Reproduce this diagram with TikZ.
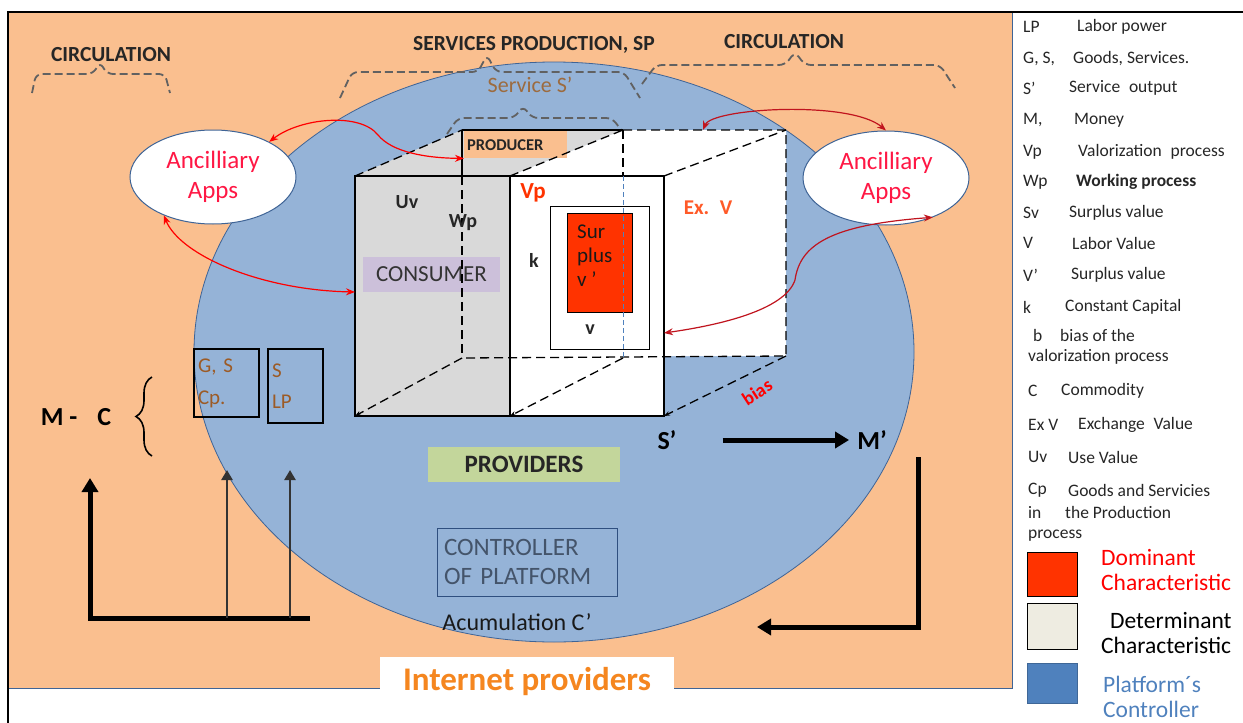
\documentclass[tikz,border=0pt]{standalone}
\usepackage{fontspec}
\setmainfont{Carlito}
\usetikzlibrary{arrows.meta,positioning,shapes.geometric,decorations.pathreplacing}
\definecolor{orangebg}{HTML}{FABF8F}
\definecolor{bluecirc}{HTML}{95B3D7}
\definecolor{bordblue}{HTML}{3F6496}
\definecolor{cubegray}{HTML}{D9D9D9}
\definecolor{consviolet}{HTML}{CCC0DA}
\definecolor{provgreen}{HTML}{C3D69B}
\definecolor{redbox}{HTML}{FF3300}
\definecolor{appred}{HTML}{FF1744}
\definecolor{darkred}{HTML}{C0141E}
\definecolor{brownlbl}{HTML}{9C5B26}
\definecolor{srvbrown}{HTML}{9C6B3F}
\definecolor{ctrltext}{HTML}{44546A}
\definecolor{ctrlbord}{HTML}{2F4F7F}
\definecolor{exvred}{HTML}{FF5A28}
\definecolor{inetorange}{HTML}{F5861F}
\definecolor{detgray}{HTML}{EEECE1}
\definecolor{platblue}{HTML}{4F81BD}
\begin{document}
\begin{tikzpicture}[x=1pt,y=-1pt,
lbl/.style={font=\bfseries\fontsize{21.5}{23}\selectfont,text=black!85},
brc/.style={draw=black!62,line width=1.8pt,dash pattern=on 8pt off 4pt,rounded corners=6pt},
cub/.style={line width=1.3pt,dash pattern=on 9pt off 5pt},
app/.style={ellipse,draw=bordblue,line width=1pt,fill=white,minimum width=166pt,minimum height=94pt,inner sep=0pt,align=center,text=appred,font=\fontsize{25}{30}\selectfont},
rarr/.style={{Stealth[length=9pt,width=7pt]}-{Stealth[length=9pt,width=7pt]},line width=1.2pt},
leg/.style={anchor=west,inner sep=0pt,font=\fontsize{17.5}{19}\selectfont,text=black!85},
legbig/.style={anchor=west,inner sep=0pt,font=\fontsize{23.5}{25}\selectfont},
cbf/.style={font=\bfseries\fontsize{20}{22}\selectfont,text=black!85,inner sep=1pt},
big/.style={font=\bfseries\fontsize{26}{28}\selectfont,inner sep=2pt},
thk/.style={line width=5pt,-{Triangle[length=14pt,width=16pt]}},
thn/.style={line width=2.8pt,draw=black!80,-{Triangle[length=10pt,width=11pt]}},
sq/.style={minimum width=50pt,minimum height=44pt,inner sep=0pt,anchor=north west}]
\useasboundingbox (0,0) rectangle (1243,723);
% background and platform
\fill[orangebg] (8,12) rectangle (1012,688);
\draw[bordblue] (8,688) -- (1012,688) -- (1012,12);
\draw[black,line width=1.3pt] (8,723) -- (8,12) -- (1243,12);
\fill[bluecirc,draw=bordblue,line width=0.8pt] (554,352) ellipse [x radius=360pt,y radius=290pt];
% top labels and dashed braces
\node[lbl] (circl) at (111,55) {CIRCULATION};
\node[lbl] (sp) at (534,45) {SERVICES PRODUCTION, SP};
\node[lbl] (circr) at (784,42) {CIRCULATION};
\draw[brc] (32,93) -- (36,74) -- (93,74) -- (100,62) -- (107,74) -- (165,74) -- (170,93);
\draw[brc] (340,98) -- (352,72) -- (478,72) -- (487,55) -- (496,72) -- (624,72) -- (640,98);
\draw[brc] (642,84) -- (656,65) -- (785,65) -- (795,52) -- (805,65) -- (940,65) -- (955,88);
\node[font=\fontsize{22}{24}\selectfont,text=srvbrown] (srv) at (530,85) {Service S’};
\draw[brc] (447,134) -- (458,118) -- (514,118) -- (523,106) -- (532,118) -- (612,118) -- (622,131);
% cube
\coordinate (f1) at (355,176); \coordinate (f2) at (510,176); \coordinate (f3) at (664,176);
\coordinate (f4) at (355,416); \coordinate (f5) at (510,416); \coordinate (f6) at (664,416);
\coordinate (b1) at (462,130); \coordinate (b2) at (623,130); \coordinate (b3) at (786,130);
\coordinate (b4) at (462,358); \coordinate (b5) at (623,358); \coordinate (b6) at (786,356);
\fill[cubegray] (f1) -- (b1) -- (b2) -- (f2) -- (f5) -- (f4) -- cycle;
\fill[white] (f2) -- (b2) -- (b3) -- (b6) -- (f3|-b6) -- (f6) -- (f5) -- cycle;
\node[fill=orangebg,minimum width=103pt,minimum height=27pt,text width=97pt,inner sep=3pt,anchor=north west,font=\bfseries\fontsize{16.5}{18}\selectfont,text=black!85] (prod) at (464,131) {PRODUCER};
\node[fill=consviolet,minimum width=137pt,minimum height=35pt,inner sep=1pt,font=\fontsize{23}{25}\selectfont,text=black!80] (cons) at (431.5,274.5) {CONSUMER};
\draw[line width=1.3pt] (f1) rectangle (f5); \draw[line width=1.3pt] (f2) rectangle (f6);
\draw[line width=1.3pt] (b1) -- (b2); \draw[line width=1.3pt] (b1) -- (b1|-f1);
\draw[cub] (b1|-f1) -- (b4); \draw[cub] (b2) -- (b3) -- (b6) -- (b4); \draw[cub] (b2) -- (b2|-f1);
\draw[cub] (f1) -- (b1); \draw[cub] (f2) -- (b2); \draw[cub] (f3) -- (b3);
\draw[cub,-{Stealth[length=6pt]}] (b4) -- (f4); \draw[cub,-{Stealth[length=6pt]}] (b5) -- (f5); \draw[cub,-{Stealth[length=6pt]}] (b6) -- (f6);
\node[draw=black,line width=1.3pt,fill=white,minimum width=99pt,minimum height=143pt,anchor=north west] (vbox) at (550,206) {};
\node[draw=black,line width=1.2pt,fill=redbox,minimum width=65pt,minimum height=99pt,anchor=north west] (sv) at (567,213) {};
\node[anchor=north west,align=left,font=\fontsize{21}{24}\selectfont,text=black!90,inner sep=0pt] (svt) at (577,225) {Sur\\plus\\v ’};
\draw[draw=platblue,line width=0.9pt,dash pattern=on 5pt off 3pt] (b2|-f1) -- (b5);
\node[cbf] (uv) at (407,202) {Uv};
\node[cbf] (wp) at (463,223) {Wp};
\node[font=\bfseries\fontsize{23}{25}\selectfont,text=redbox,inner sep=1pt] (vp) at (533,193) {Vp};
\node[cbf] (kk) at (534,260) {k};
\node[cbf] (vv) at (590,330) {v};
\node[font=\bfseries\fontsize{21}{23}\selectfont,text=exvred] (exv) at (708,208) {Ex.\enspace V};
\node[font=\bfseries\fontsize{19}{21}\selectfont,text=red,rotate=33,inner sep=1pt] (bias) at (757,392) {bias};
\coordinate (cin) at (355,292); \coordinate (ctop) at (703,130); \coordinate (vin) at (664,333);
% ancilliary apps
\node[app] (appl) at (213,177) {Ancilliary\\Apps};
\node[app] (appr) at (886,178) {Ancilliary\\Apps};
\draw[rarr,red] (appl.32) .. controls (300,118) and (360,112) .. (378,135) .. controls (392,152) and (425,158) .. (prod.south west);
\draw[rarr,red] (appl.218) .. controls (180,255) and (260,290) .. (cin);
\draw[rarr,darkred] (ctop) .. controls (712,108) and (850,100) .. (appr.north);
\draw[rarr,darkred] (vin) .. controls (720,325) and (785,310) .. (795,280) .. controls (800,245) and (830,225) .. (appr.-40);
% money and commodity
\node[big] (mc) at (76,417) {M -\hspace{20pt}C};
\draw[decorate,decoration={brace,amplitude=16pt},line width=1.6pt] (152,456) -- (152,377);
\node[draw=black,line width=1.2pt,minimum width=65pt,minimum height=68pt,text width=57pt,inner sep=4pt,align=left,font=\fontsize{21}{32}\selectfont,text=brownlbl] (gsc) at (226.5,383) {G, S\\Cp.};
\node[draw=black,line width=1.2pt,minimum width=55pt,minimum height=74pt,text width=47pt,inner sep=4pt,align=left,font=\fontsize{21}{31}\selectfont,text=brownlbl] (slp) at (295.5,386) {S\\LP};
\coordinate (lr) at (310,618); \coordinate (lc) at (90,618); \coordinate (lt) at (90,478);
\coordinate (g1) at (227,618); \coordinate (g1t) at (227,470); \coordinate (g2) at (290,618); \coordinate (g2t) at (290,470);
\draw[thk] (lr) -- (lc) -- (lt);
\draw[thn] (g1) -- (g1t); \draw[thn] (g2) -- (g2t);
% output and accumulation
\node[big] (sout) at (667,440) {S’};
\node[big] (mout) at (872,440) {M’};
\draw[thk,shorten <=44pt,shorten >=6pt] (sout.east) -- (mout.west);
\coordinate (rt) at (918,457); \coordinate (rc) at (918,627); \coordinate (rl) at (757,627);
\draw[thk] (rt) -- (rc) -- (rl);
\node[fill=provgreen,minimum width=192pt,minimum height=35pt,inner sep=1pt,font=\bfseries\fontsize{25}{27}\selectfont,text=black!85] (prov) at (524,464.5) {PROVIDERS};
\node[draw=ctrlbord,line width=1pt,minimum width=180pt,minimum height=68pt,text width=166pt,inner sep=7pt,align=left,font=\fontsize{25}{29}\selectfont,text=ctrltext] (ctrl) at (527,562) {CONTROLLER\\OF PLATFORM};
\node[font=\fontsize{24}{26}\selectfont,text=black!90,inner sep=1pt] (acc) at (517,622) {Acumulation C'};
\node[fill=white,minimum width=294pt,minimum height=50pt,font=\bfseries\fontsize{33}{35}\selectfont,text=inetorange] (inet) at (527,682) {Internet providers};
% legend
\node[leg] (l1a) at (1023,27) {LP}; \node[leg] (l1b) at (1077,27) {Labor power};
\node[leg] (l2a) at (1023,59) {G, S,}; \node[leg] (l2b) at (1073,59) {Goods, Services.};
\node[leg] (l3a) at (1023,88) {S’}; \node[leg] (l3b) at (1069,88) {Service\enspace output};
\node[leg] (l4a) at (1023,120) {M,}; \node[leg] (l4b) at (1074,120) {Money};
\node[leg] (l5a) at (1023,152) {Vp}; \node[leg] (l5b) at (1078,152) {Valorization\enspace process};
\node[leg] (l6a) at (1023,182) {Wp}; \node[leg,font=\bfseries\fontsize{17.5}{19}\selectfont] (l6b) at (1076,182) {Working process};
\node[leg] (l7a) at (1023,213) {Sv}; \node[leg] (l7b) at (1069,213) {Surplus value};
\node[leg] (l8a) at (1023,243) {V}; \node[leg] (l8b) at (1072,243) {Labor Value};
\node[leg] (l9a) at (1023,275) {V’}; \node[leg] (l9b) at (1071,275) {Surplus value};
\node[leg] (l10a) at (1023,307) {k}; \node[leg] (l10b) at (1065,307) {Constant Capital};
\node[leg] (l11a) at (1033,335) {b}; \node[leg] (l11b) at (1060,335) {bias of the};
\node[leg] (l11c) at (1028,357) {valorization process};
\node[leg] (l12a) at (1028,391) {C}; \node[leg] (l12b) at (1061,391) {Commodity};
\node[leg] (l13a) at (1028,425) {Ex V}; \node[leg] (l13b) at (1078,425) {Exchange\enspace Value};
\node[leg] (l14a) at (1028,457) {Uv}; \node[leg] (l14b) at (1068,457) {Use Value};
\node[leg] (l15a) at (1028,490) {Cp}; \node[leg] (l15b) at (1068,490) {Goods and Servicies};
\node[leg] (l15c) at (1028,512) {in}; \node[leg] (l15d) at (1065,512) {the Production};
\node[leg] (l15e) at (1028,536) {process};
\node[sq,fill=redbox,draw=black,line width=1.3pt] (sqa) at (1027,552) {};
\node[sq,fill=detgray,draw=black,line width=1.3pt,minimum height=46pt] (sqb) at (1027,603) {};
\node[sq,fill=platblue,draw=platblue!80!black,line width=0.8pt,minimum height=40pt] (sqc) at (1027,663) {};
\node[legbig,text=red] (d1) at (1101,557) {Dominant}; \node[legbig,text=red] (d2) at (1101,582) {Characteristic};
\node[legbig,text=black] (d3) at (1110,620) {Determinant}; \node[legbig,text=black] (d4) at (1101,645) {Characteristic};
\node[legbig,text=platblue] (d5) at (1103,684) {Platform´s}; \node[legbig,text=platblue] (d6) at (1103,709) {Controller};
\end{tikzpicture}
\end{document}
